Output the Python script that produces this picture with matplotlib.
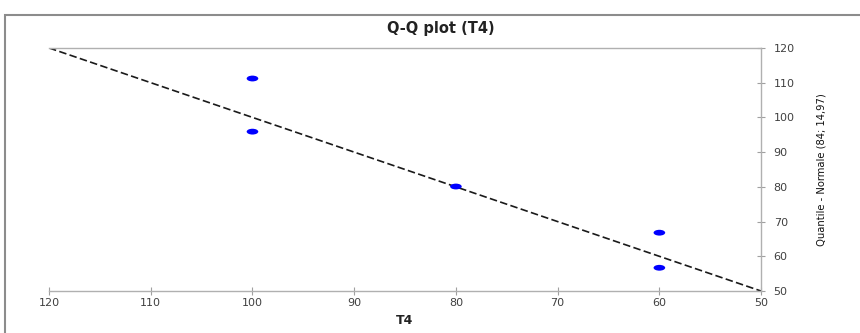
import matplotlib.pyplot as plt
import numpy as np
from matplotlib.path import Path
from matplotlib.transforms import Affine2D
from matplotlib.patches import Rectangle

# Observed T4 values vs. normal quantiles (mean 84, sd 14.97)
t4_values = [100, 100, 80, 60, 60]
normal_quantiles = [111.2, 95.9, 80.1, 66.8, 56.7]
ref_line = [120, 50]

# wide oval marker
oval = Path.unit_circle().transformed(Affine2D().scale(2.0, 1.0))

fig = plt.figure(figsize=(8.6, 3.33), dpi=100)
ax = fig.add_axes([0.057, 0.126, 0.828, 0.730])

ax.plot(ref_line, ref_line, color='#1a1a1a', linestyle=(0, (4.5, 2)), linewidth=1.2, zorder=2)
ax.scatter(t4_values, normal_quantiles, marker=oval, s=70, color='#0000ff', edgecolors='none', zorder=3)

ax.set_xlim(120, 50)
ax.set_ylim(50, 120)
ax.set_xticks(np.arange(120, 49, -10))
ax.set_yticks(np.arange(50, 121, 10))

ax.yaxis.tick_right()
ax.yaxis.set_label_position('right')
ax.spines['left'].set_visible(False)
for side in ['top', 'bottom', 'right']:
    ax.spines[side].set_color('#b0b0b0')
    ax.spines[side].set_linewidth(1.0)

ax.tick_params(axis='both', direction='inout', length=6, width=0.8, color='#a0a0a0',
               labelcolor='#404040', labelsize=8)
ax.tick_params(axis='x', pad=2)
ax.tick_params(axis='y', pad=6)

ax.set_xlabel('T4', fontsize=9, fontweight='bold', color='#222222', labelpad=4)
ax.set_ylabel('Quantile - Normale (84; 14,97)', fontsize=8, color='#111111', labelpad=16,
              family='DejaVu Sans', fontstretch='condensed')

fig.text(0.512, 0.915, 'Q-Q plot (T4)', ha='center', va='center',
         fontsize=10.5, fontweight='bold', color='#222222')

# outer chart border
fig.patches.append(Rectangle((0.006, -0.2), 1.5, 1.155, transform=fig.transFigure,
                             fill=False, edgecolor='#8c8c8c', linewidth=1.5))

plt.savefig('out.png', dpi=100)
